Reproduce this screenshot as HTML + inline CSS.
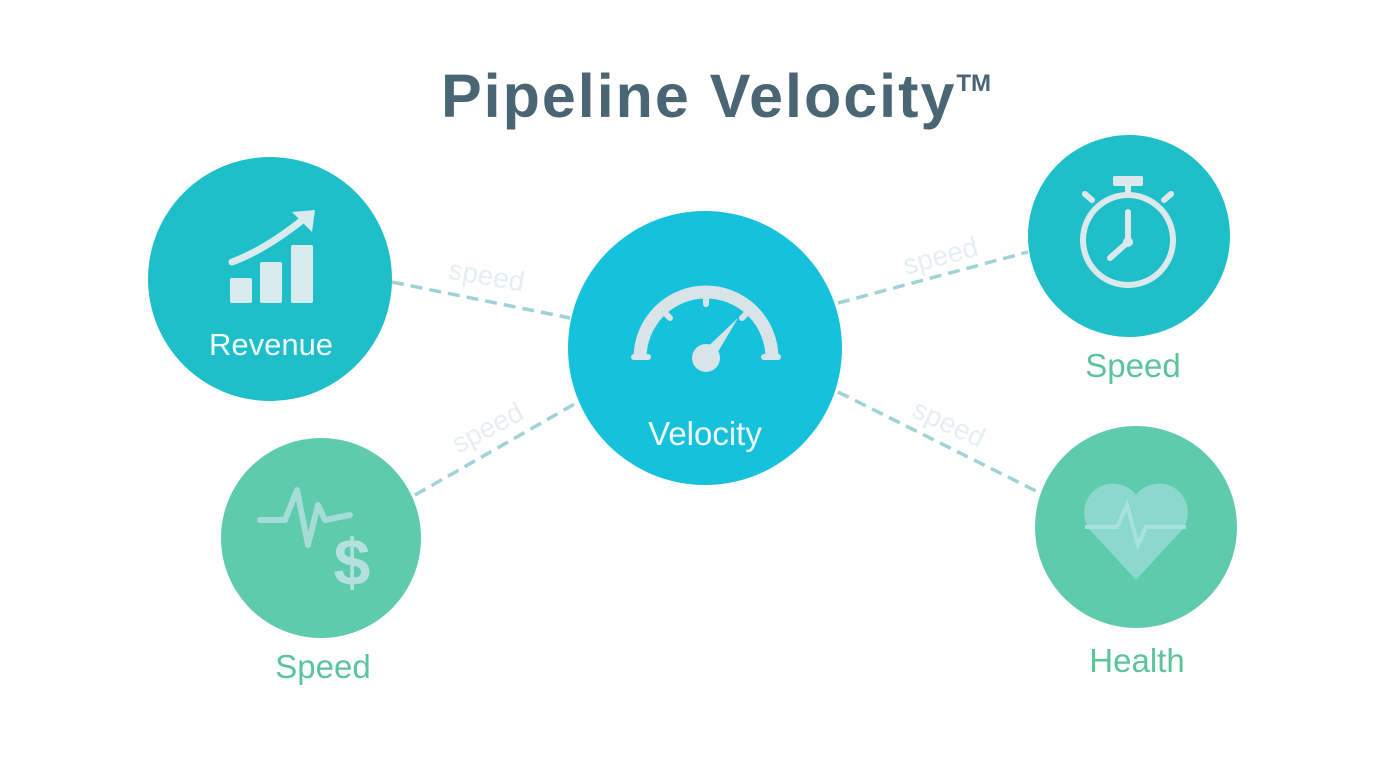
<!DOCTYPE html>
<html><head><meta charset="utf-8"><style>
html,body{margin:0;padding:0;background:#fff;}
body{width:1392px;height:752px;overflow:hidden;font-family:"Liberation Sans",sans-serif;}
</style></head><body>
<svg width="1392" height="752" viewBox="0 0 1392 752" xmlns="http://www.w3.org/2000/svg" font-family="Liberation Sans, sans-serif">
<rect width="1392" height="752" fill="#fff"/>
<text x="716" y="117" text-anchor="middle" font-size="61" font-weight="bold" fill="#4a6573" letter-spacing="2">Pipeline Velocity<tspan font-size="24" dy="-26" letter-spacing="0">TM</tspan></text>
<g stroke="#9fd3d8" stroke-width="3.5" stroke-dasharray="12 7" fill="none">
<line x1="392" y1="282" x2="570" y2="318"/>
<line x1="415" y1="495" x2="578" y2="402"/>
<line x1="838" y1="303" x2="1028" y2="252"/>
<line x1="838" y1="392" x2="1040" y2="493"/>
</g>
<g fill="#e2eef0" font-size="28" opacity="0.9">
<text x="485" y="285" text-anchor="middle" transform="rotate(10 485 285)">speed</text>
<text x="492" y="436" text-anchor="middle" transform="rotate(-28 492 436)">speed</text>
<text x="943" y="265" text-anchor="middle" transform="rotate(-15 943 265)">speed</text>
<text x="945" y="432" text-anchor="middle" transform="rotate(25 945 432)">speed</text>
</g>
<circle cx="270" cy="279" r="122" fill="#1fbfca"/>
<circle cx="705" cy="348" r="137" fill="#16c1dc"/>
<circle cx="1129" cy="236" r="101" fill="#1fbfca"/>
<circle cx="321" cy="538" r="100" fill="#5fcbad"/>
<circle cx="1136" cy="527" r="101" fill="#5fcbad"/>
<g fill="#d8ecee">
<rect x="230" y="278" width="22" height="25" rx="2"/>
<rect x="260" y="262" width="22" height="41" rx="2"/>
<rect x="291" y="245" width="22" height="58" rx="2"/>
</g>
<path d="M232 262 Q265 250 305 218" stroke="#d8ecee" stroke-width="7" fill="none" stroke-linecap="round"/>
<path d="M292 212 L315 210 L312 232 Z" fill="#d8ecee"/>
<text x="271" y="355" text-anchor="middle" font-size="31" fill="#eef8f9">Revenue</text>
<path d="M640 358 A66 66 0 0 1 772 358" stroke="#d8e4e8" stroke-width="13" fill="none"/>
<g stroke="#d8e4e8" stroke-width="6" stroke-linecap="round">
<line x1="634" y1="357" x2="648" y2="357"/><line x1="764" y1="357" x2="778" y2="357"/>
<line x1="706" y1="292" x2="706" y2="304"/><line x1="662" y1="310" x2="670" y2="318"/><line x1="750" y1="310" x2="742" y2="318"/>
</g>
<path d="M700 354 L738 318 L712 362 Z" fill="#d8e4e8"/>
<circle cx="706" cy="358" r="14" fill="#d8e4e8"/>
<text x="705" y="445" text-anchor="middle" font-size="33" fill="#eef8f9">Velocity</text>
<g stroke="#dce9ec" fill="none" stroke-width="6" stroke-linecap="round">
<circle cx="1128" cy="240" r="45"/>
<line x1="1128" y1="212" x2="1128" y2="242"/><line x1="1128" y1="242" x2="1110" y2="258"/>
<line x1="1128" y1="185" x2="1128" y2="193"/>
<line x1="1085" y1="194" x2="1092" y2="200"/><line x1="1171" y1="194" x2="1164" y2="200"/>
</g>
<rect x="1113" y="176" width="30" height="10" rx="2" fill="#dce9ec"/>
<circle cx="1128" cy="242" r="5" fill="#dce9ec"/>
<path d="M260 520 L285 520 L297 490 L308 545 L318 505 L325 520 L350 515" stroke="#a4dcd6" stroke-width="6" fill="none" stroke-linecap="round" stroke-linejoin="round"/>
<text x="352" y="585" text-anchor="middle" font-size="66" font-weight="bold" fill="#b4e0de">$</text>
<path d="M1136 580 L1090 530 A26 26 0 0 1 1136 495 A26 26 0 0 1 1182 530 Z" fill="#8fd9d2" opacity="0.9"/>
<path d="M1085 527 L1117 527 L1127 505 L1138 545 L1146 527 L1186 527" stroke="#a8e2db" stroke-width="4" fill="none"/>
<g fill="#5cc49a" font-size="33">
<text x="323" y="678" text-anchor="middle">Speed</text>
<text x="1133" y="377" text-anchor="middle">Speed</text>
<text x="1137" y="672" text-anchor="middle">Health</text>
</g>
</svg>
</body></html>
